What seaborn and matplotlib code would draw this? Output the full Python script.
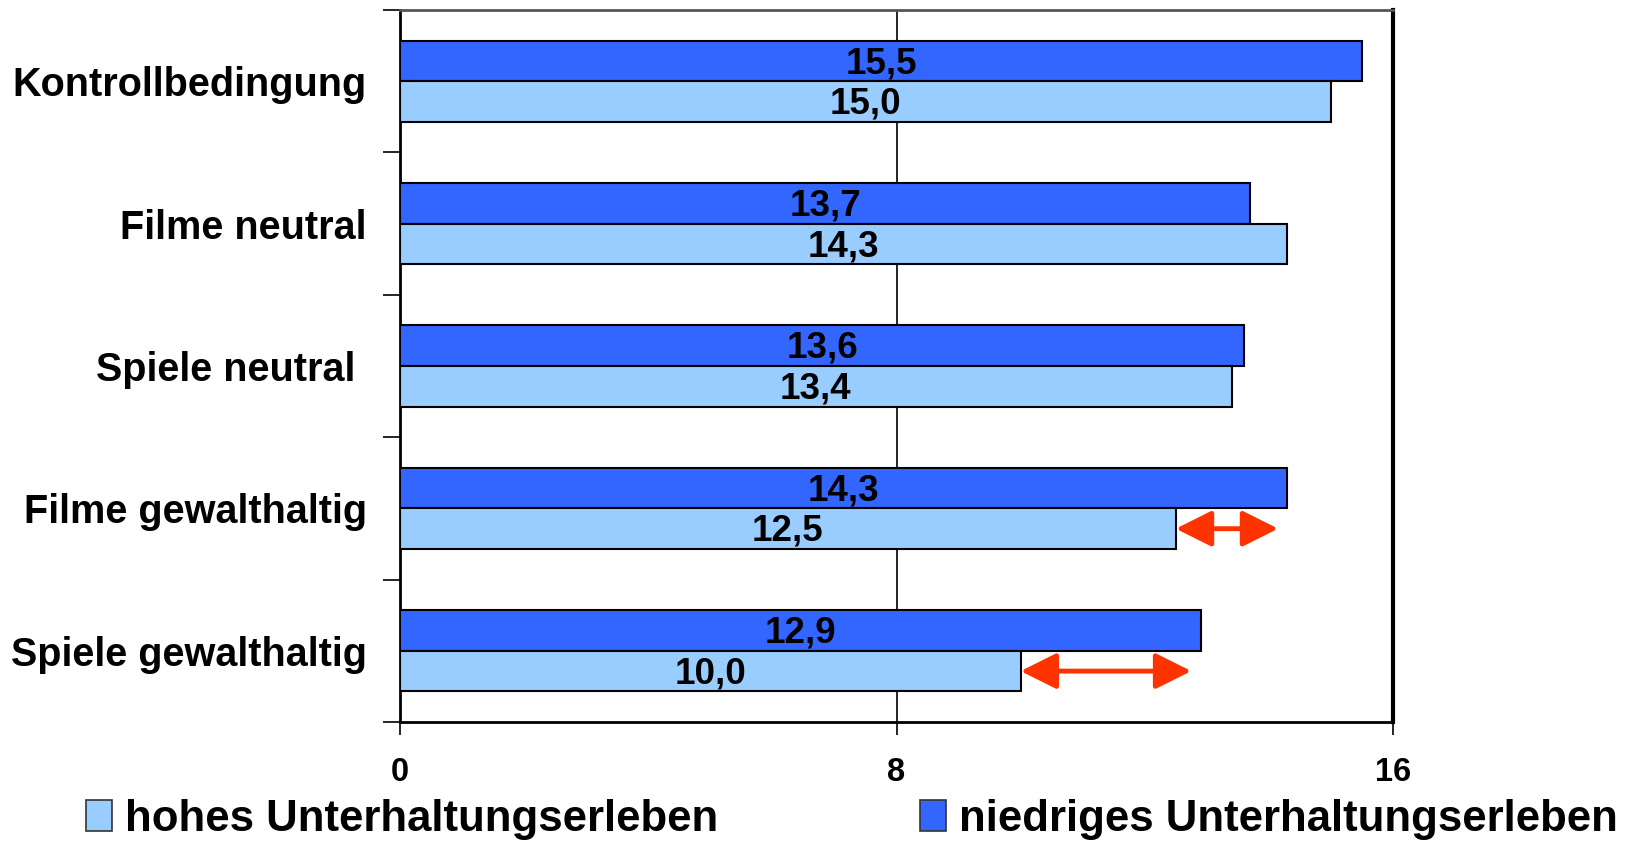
import matplotlib
matplotlib.use("Agg")
import matplotlib.pyplot as plt
import seaborn as sns
import pandas as pd
import numpy as np
from matplotlib.patches import Patch

categories = ["Kontrollbedingung", "Filme neutral", "Spiele neutral ", "Filme gewalthaltig", "Spiele gewalthaltig"]
hohes = [15.0, 14.3, 13.4, 12.5, 10.0]
niedriges = [15.5, 13.7, 13.6, 14.3, 12.9]
series_names = ["hohes Unterhaltungserleben", "niedriges Unterhaltungserleben"]
x_ticks = [0, 8, 16]
arrow_categories = ["Filme gewalthaltig", "Spiele gewalthaltig"]

sns.set_theme(style="white")
plt.rcParams["font.family"] = ["Liberation Sans", "DejaVu Sans"]
plt.rcParams["font.weight"] = "bold"
for k in ["text.color", "axes.labelcolor", "xtick.color", "ytick.color"]:
    plt.rcParams[k] = "black"

df = pd.DataFrame({
    "cat": categories * 2,
    "val": niedriges + hohes,
    "series": [series_names[1]] * len(categories) + [series_names[0]] * len(categories),
})

fig = plt.figure(figsize=(16.32, 8.41), dpi=100)
ax = fig.add_axes([400/1632, 1-722/841, (1393-400)/1632, (722-10)/841])

palette = {series_names[0]: "#99CCFF", series_names[1]: "#3366FF"}
width = 0.57
sns.barplot(data=df, y="cat", x="val", hue="series", order=categories,
            hue_order=[series_names[1], series_names[0]], palette=palette,
            orient="h", width=width, gap=0, edgecolor="black", linewidth=1.5,
            saturation=1, legend=False, ax=ax, zorder=3)

for cont in ax.containers:
    labels = [f"{b.get_width():.1f}".replace(".", ",") for b in cont]
    texts = ax.bar_label(cont, labels=labels, label_type="center", fontsize=26.5,
                         fontweight="bold", color="black")
    for t in texts:
        t.xyann = (0, -2)

ax.set_xlim(0, 16)
ax.set_ylim(len(categories) - 0.5, -0.5)
ax.set_xticks(x_ticks)
ax.set_xticklabels([str(t) for t in x_ticks], fontsize=23.5, fontweight="bold")
ax.set_xlabel("")
ax.set_ylabel("")
ax.set_yticks(range(len(categories)))
ax.set_yticklabels(categories, fontsize=28.5, fontweight="bold")
ax.set_yticks(np.arange(-0.5, len(categories), 1.0), minor=True)
ax.tick_params(axis="y", which="major", length=0, pad=24)
ax.tick_params(axis="y", which="minor", length=12, width=1.2, color="black", left=True)
ax.tick_params(axis="x", which="major", length=9, width=1.2, color="black", pad=16, bottom=True)

ax.grid(False)
ax.axvline(8, color="black", linewidth=1.2, zorder=1)

for side in ["left", "bottom"]:
    ax.spines[side].set_color("black")
    ax.spines[side].set_linewidth(2)
ax.spines["right"].set_color("black")
ax.spines["right"].set_linewidth(3)
ax.spines["top"].set_color("#555555")
ax.spines["top"].set_linewidth(2)

# arrows showing the difference
for c in arrow_categories:
    i = categories.index(c)
    y = i + width / 4
    ax.annotate("", xy=(hohes[i], y), xytext=(niedriges[i] - 0.15, y),
                arrowprops=dict(arrowstyle="<|-|>,head_length=1.0,head_width=0.5",
                                color="#FF3300", lw=3.5, shrinkA=0, shrinkB=0,
                                mutation_scale=22),
                zorder=5)

handles = [Patch(facecolor=palette[s], edgecolor="#333333", linewidth=1.2) for s in series_names]
fig.legend(handles, series_names, loc="center left", bbox_to_anchor=(86/1632, 1-819/841),
           ncol=2, frameon=False, prop={"weight": "bold", "size": 31.5},
           handlelength=0.6, handleheight=0.72, handletextpad=0.3, columnspacing=4.6,
           borderpad=0, borderaxespad=0)

fig.savefig("out.png", dpi=100)
